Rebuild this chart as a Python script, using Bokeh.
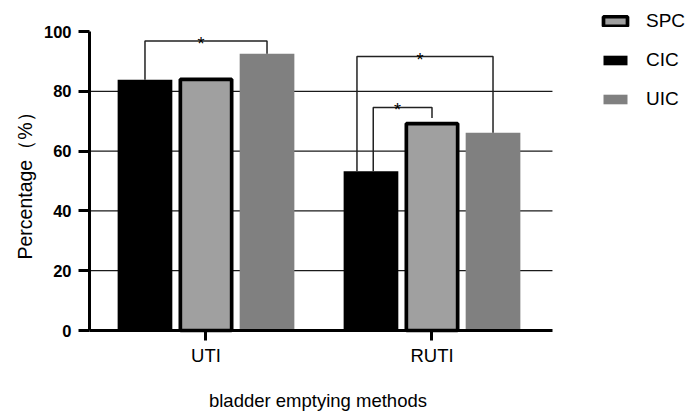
import math
from bokeh.plotting import figure
from bokeh.models import Range1d, FixedTicker, Legend, LegendItem
from bokeh.embed import file_html
from bokeh.resources import INLINE
from bokeh.core.properties import value

# ---- data ----
groups = ["UTI", "RUTI"]
series = ["CIC", "SPC", "UIC"]
cic = [83.9, 53.3]
spc = [84.0, 69.2]
uic = [92.6, 66.1]
legend_order = ["SPC", "CIC", "UIC"]
y_ticks = [0, 20, 40, 60, 80, 100]
grid_levels = [20, 40, 60, 80]
x_title = "bladder emptying methods"
y_title = "Percentage（%）"

bracket_group = ["UTI", "RUTI", "RUTI"]
bracket_from = ["CIC", "CIC", "CIC"]
bracket_to = ["UIC", "UIC", "SPC"]
bracket_level = [96.8, 91.6, 74.6]
bracket_label = ["*", "*", "*"]

# ---- styling / layout constants ----
FONT = "Liberation Sans"
offsets = {"CIC": -0.27, "SPC": 0.0, "UIC": 0.27}
bar_w = 0.242
spc_w = 0.227
left_nudge = [0.0, -0.062, 0.01]
outline_gap = {"CIC": 0.0, "SPC": 1.9, "UIC": 0.0}
values = {"CIC": cic, "SPC": spc, "UIC": uic}
centers = [i + 0.5 for i in range(len(groups))]

X0, X1 = -0.0155, 2.033      # drawn axis extent
Y0, Y1 = y_ticks[0], y_ticks[-1]

p = figure(width=693, height=411, output_backend="svg", toolbar_location=None,
           x_range=Range1d(-0.4093, 2.6571), y_range=Range1d(-27.09, 110.37),
           min_border=0, min_border_left=0, min_border_right=0, min_border_top=0, min_border_bottom=0)
p.outline_line_color = None
p.background_fill_color = "white"
p.border_fill_color = "white"
p.xgrid.visible = False
p.ygrid.visible = False

# horizontal reference lines limited to axis extent
p.segment(x0=[X0] * len(grid_levels), x1=[X1] * len(grid_levels), y0=grid_levels, y1=grid_levels,
          line_color="#1a1a1a", line_width=1.3)

renderers = {}
renderers["CIC"] = p.vbar(x=[c + offsets["CIC"] for c in centers], top=cic, width=bar_w, bottom=0,
                          fill_color="black", line_color=None)
renderers["SPC"] = p.vbar(x=[c + offsets["SPC"] for c in centers], top=spc, width=spc_w, bottom=0,
                          fill_color="#a0a0a0", line_color="black", line_width=3.7)
renderers["UIC"] = p.vbar(x=[c + offsets["UIC"] for c in centers], top=uic, width=bar_w, bottom=0,
                          fill_color="#808080", line_color=None)

# significance brackets
xs, ys, sx, sy = [], [], [], []
for k, g in enumerate(bracket_group):
    gi = groups.index(g)
    c = centers[gi]
    a, b = bracket_from[k], bracket_to[k]
    lx = c + offsets[a] + left_nudge[k]
    rx = c + offsets[b]
    lb = values[a][gi] + outline_gap[a]
    rb = values[b][gi] + outline_gap[b]
    lv = bracket_level[k]
    xs.append([lx, lx, rx, rx])
    ys.append([lb, lv, lv, rb])
    sx.append((lx + rx) / 2)
    sy.append(lv)
p.multi_line(xs=xs, ys=ys, line_color="#222222", line_width=1.5)
p.text(x=sx, y=sy, text=bracket_label, text_align="center", text_baseline="alphabetic",
       text_font=value(FONT), text_font_size="18px", text_color="black", x_offset=-5, y_offset=3)

# axes (kept at the data origin, drawn only over their bounds)
yax = p.yaxis[0]
yax.fixed_location = X0
yax.bounds = (Y0, Y1)
yax.ticker = FixedTicker(ticks=y_ticks)
yax.axis_line_width = 3
yax.major_tick_line_width = 3
yax.major_tick_in = 0
yax.major_tick_out = 11
yax.minor_tick_line_color = None
yax.major_label_text_font = FONT
yax.major_label_text_font_style = "bold"
yax.major_label_text_font_size = "16.5px"
yax.major_label_text_color = "black"
yax.major_label_standoff = 7

xax = p.xaxis[0]
xax.fixed_location = Y0
xax.bounds = (X0, X1)
xax.ticker = FixedTicker(ticks=centers)
xax.major_label_overrides = {c: g for c, g in zip(centers, groups)}
xax.axis_line_width = 3
xax.major_tick_line_width = 3
xax.major_tick_in = 0
xax.major_tick_out = 10
xax.minor_tick_line_color = None
xax.major_label_text_font = FONT
xax.major_label_text_font_size = "18.5px"
xax.major_label_text_color = "black"
xax.major_label_standoff = 4

# axis titles
p.text(x=[(X0 + X1) / 2], y=[Y0], text=[x_title], text_align="center", text_baseline="alphabetic",
       text_font=value(FONT), text_font_size="18.5px", text_color="black", x_offset=-3, y_offset=70)
p.text(x=[X0], y=[(Y0 + Y1) / 2], text=[y_title], text_align="center", text_baseline="middle",
       angle=math.pi / 2, text_font=value(FONT), text_font_size="19.5px", text_color="black",
       x_offset=-64, y_offset=0)

legend = Legend(items=[LegendItem(label=s, renderers=[renderers[s]]) for s in legend_order],
                location=(600, 301.5), orientation="vertical", padding=0, margin=0,
                spacing=17, glyph_width=30, glyph_height=12, label_height=21,
                label_standoff=16, label_text_font=FONT, label_text_font_size="19px",
                label_text_color="black", border_line_color=None, background_fill_alpha=0)
p.add_layout(legend)

open("out.html", "w").write(file_html(p, INLINE))
